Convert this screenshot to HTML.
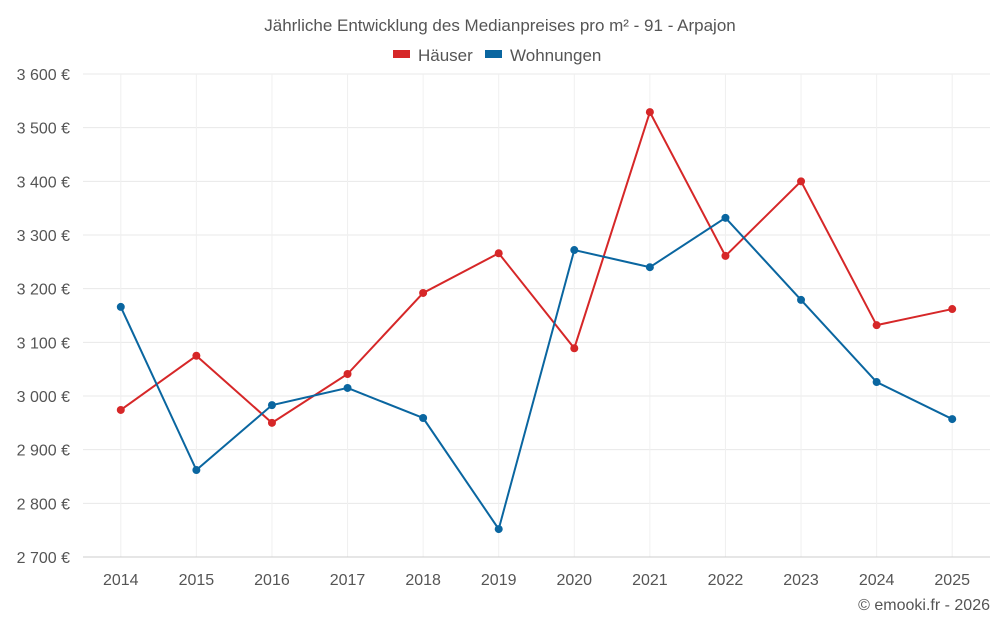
<!DOCTYPE html>
<html><head><meta charset="utf-8"><style>
body{margin:0;background:#fff;font-family:"Liberation Sans",sans-serif}
svg text{font-family:"Liberation Sans",sans-serif;fill:#555}
</style></head><body>
<svg id="c" width="1000" height="625"></svg>
<script>
const years=[2014,2015,2016,2017,2018,2019,2020,2021,2022,2023,2024,2025];
const haeuser=[2974,3075,2950,3041,3192,3266,3089,3529,3261,3400,3132,3162];
const wohnungen=[3166,2862,2983,3015,2959,2752,3272,3240,3332,3179,3026,2957];
const yTicks=[2700,2800,2900,3000,3100,3200,3300,3400,3500,3600];
const L=83,R=990,T=74,B=557,yMin=2700,yMax=3600;
const svg=document.getElementById('c');const NS='http://www.w3.org/2000/svg';
const step=(R-L)/years.length;
const x=i=>L+step*(i+0.5);
const y=v=>B-(v-yMin)/(yMax-yMin)*(B-T);
function mk(t,a,p){const e=document.createElementNS(NS,t);for(const k in a)e.setAttribute(k,a[k]);(p||svg).appendChild(e);return e;}
yTicks.forEach(v=>{
 const g=mk('line',{x1:L,x2:R,y1:y(v),y2:y(v),stroke:'#e8e8e8'});
 
 
 const t=mk('text',{x:70,y:y(v)+6,'text-anchor':'end','font-size':16});
 t.textContent=String(v).replace(/(\d)(\d{3})$/,'$1 $2')+' €';
 
 
});
years.forEach((yr,i)=>{
 const g=mk('line',{x1:x(i),x2:x(i),y1:T,y2:B,stroke:'#f0f0f0'});
 
 
 const t=mk('text',{x:x(i),y:585,'text-anchor':'middle','font-size':16});
 t.textContent=yr;
 
 
});
const ax=mk('line',{x1:L,x2:R,y1:B,y2:B,stroke:'#ccc'});


function series(vals,col,name){
 const p=mk('polyline',{points:vals.map((v,i)=>x(i)+','+y(v)).join(' '),fill:'none',stroke:col,'stroke-width':2});
 
 
 vals.forEach((v,i)=>{const c=mk('circle',{cx:x(i),cy:y(v),r:4,fill:col});
 
 });
}
series(haeuser,'#d62728','haeuser');
series(wohnungen,'#0a66a0','wohnungen');
</script>
<svg width="1000" height="625" style="position:absolute;left:0;top:0">
<text x="500" y="31" text-anchor="middle" font-size="17">Jährliche Entwicklung des Medianpreises pro m² - 91 - Arpajon</text>
<g><rect x="393" y="50" width="17" height="8" fill="#d62728"/><text x="418" y="61" font-size="17">Häuser</text></g>
<g><rect x="485" y="50" width="17" height="8" fill="#0a66a0"/><text x="510" y="61" font-size="17">Wohnungen</text></g>
<text x="990" y="610" text-anchor="end" font-size="16">© emooki.fr - 2026</text>
</svg>
</body></html>
